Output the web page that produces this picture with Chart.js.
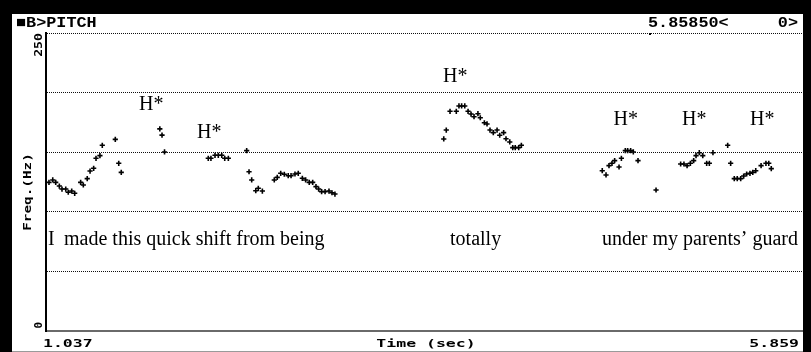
<!DOCTYPE html>
<html>
<head>
<meta charset="utf-8">
<script src="https://cdn.jsdelivr.net/npm/chart.js@4/dist/chart.umd.min.js"></script>
<style>
  html, body { margin: 0; padding: 0; background: #000; }
  #wrap { width: 811px; height: 352px; }
  canvas { display: block; }
</style>
</head>
<body>
<div id="wrap"><canvas id="pitch" width="811" height="352"></canvas></div>
<script>
// Analysis window (seconds) and frequency range (Hz)
const timeStart = 1.037;
const timeEnd = 5.859;
const freqMin = 0;
const freqMax = 250;
const freqStep = 50;

// F0 track, phrase 1: "I made this quick shift from being"
const phrase1Time = [1.056, 1.080, 1.099, 1.122, 1.139, 1.163, 1.179, 1.201, 1.220, 1.258,
  1.275, 1.300, 1.318, 1.341, 1.356, 1.381, 1.396, 1.479, 1.501, 1.517,
  1.763, 1.777, 1.793, 2.072, 2.089, 2.115, 2.136, 2.158, 2.177, 2.200,
  2.317, 2.332, 2.349, 2.375, 2.391, 2.417, 2.493, 2.512, 2.534, 2.557,
  2.582, 2.600, 2.625, 2.646, 2.672, 2.693, 2.716, 2.738, 2.759, 2.776,
  2.795, 2.817, 2.842, 2.861, 2.880];
const phrase1Hz = [124.7, 126.7, 124.7, 121.6, 119.1, 119.1, 116.4, 117.4, 115.5, 124.7,
  122.5, 127.8, 134.2, 136.5, 144.9, 147.1, 155.8, 160.8, 140.7, 133.1,
  169.6, 164.3, 150.2, 144.9, 144.9, 147.4, 147.4, 147.4, 144.9, 144.9,
  151.3, 133.6, 126.7, 117.7, 119.7, 117.4, 126.7, 128.9, 132.3, 131.5,
  130.3, 130.3, 131.7, 132.3, 128.1, 126.7, 124.7, 124.7, 121.1, 119.1,
  116.9, 116.9, 117.4, 116.0, 114.9];

// F0 track, phrase 2: "totally"
const phrase2Time = [3.574, 3.590, 3.614, 3.654, 3.671, 3.688, 3.708, 3.729, 3.748, 3.767,
  3.792, 3.807, 3.833, 3.850, 3.869, 3.890, 3.914, 3.931, 3.956, 3.971,
  3.995, 4.014, 4.030, 4.052, 4.069];
const phrase2Hz = [161.1, 168.6, 184.3, 184.3, 188.8, 188.8, 188.8, 184.3, 182.0, 179.8,
  182.3, 178.9, 174.7, 173.7, 168.6, 166.4, 168.6, 164.2, 166.4, 161.3,
  158.6, 153.8, 153.8, 153.8, 155.8];

// F0 track, phrase 3: "under my parents' guard"
const phrase3Time = [4.585, 4.609, 4.628, 4.647, 4.664, 4.692, 4.707, 4.732, 4.747, 4.766,
  4.783, 4.813, 4.928, 5.085, 5.106, 5.126, 5.147, 5.168, 5.183, 5.204,
  5.226, 5.251, 5.268, 5.291, 5.385, 5.404, 5.427, 5.446, 5.468, 5.487,
  5.506, 5.527, 5.545, 5.564, 5.598, 5.629, 5.647, 5.663];
const phrase3Hz = [134.5, 130.9, 138.7, 140.7, 142.9, 137.6, 144.9, 151.3, 151.3, 151.3,
  150.2, 142.9, 118.3, 140.1, 140.1, 138.7, 140.7, 142.9, 147.1, 149.6,
  147.1, 140.7, 140.7, 149.6, 155.8, 140.7, 127.8, 127.8, 127.8, 130.0,
  131.7, 132.3, 133.1, 134.5, 138.7, 140.7, 140.7, 136.2];

// ToBI pitch-accent labels, anchored at (time, Hz) of their left baseline
const accentText = ['H*', 'H*', 'H*', 'H*', 'H*', 'H*'];
const accentTime = [1.630, 2.000, 3.569, 4.657, 5.094, 5.527];
const accentHz = [185.8, 162.3, 208.9, 172.4, 172.4, 172.4];

// Orthographic transcription, anchored at its left baseline
const wordText = ['I', 'made this quick shift from being', 'totally', 'under my parents\u2019 guard'];
const wordTime = [1.049, 1.152, 3.614, 4.583];
const wordHz = [72.1, 72.1, 72.1, 72.1];

// Header / axis captions
const windowTitle = '\u25A0B>PITCH';
const cursorReadout = '5.85850<';
const channelReadout = '0>';
const xAxisTitle = 'Time (sec)';
const yAxisTitle = 'Freq.(Hz)';

function toPoints(ts, hs) { return ts.map((t, i) => ({ x: t, y: hs[i] })); }

const MONO = '"DejaVu Sans Mono", monospace';
const HEAD = '"Liberation Mono", "DejaVu Sans Mono", monospace';
const SERIF = '"Liberation Serif", "Times New Roman", serif';

// Draw text stretched horizontally (wide terminal-style glyphs)
function stretchText(ctx, text, x, y, font, sx, align) {
  ctx.save();
  ctx.font = font;
  const w = ctx.measureText(text).width * sx;
  let x0 = x;
  if (align === 'center') x0 = x - w / 2;
  else if (align === 'right') x0 = x - w;
  ctx.translate(x0, y);
  ctx.scale(sx, 1);
  ctx.textAlign = 'left';
  ctx.textBaseline = 'alphabetic';
  ctx.fillText(text, 0, 0);
  ctx.restore();
}

// Vertical text reading bottom-to-top, centred on yCenter, baseline at bx
function verticalText(ctx, text, bx, yCenter, font, sx) {
  ctx.save();
  ctx.font = font;
  const w = ctx.measureText(text).width * sx;
  ctx.translate(bx, yCenter + w / 2);
  ctx.rotate(-Math.PI / 2);
  ctx.scale(sx, 1);
  ctx.textAlign = 'left';
  ctx.textBaseline = 'alphabetic';
  ctx.fillText(text, 0, 0);
  ctx.restore();
}
// Vertical text reading bottom-to-top, ending at yTop
function verticalTextEnd(ctx, text, bx, yTop, font, sx) {
  ctx.save();
  ctx.font = font;
  const w = ctx.measureText(text).width * sx;
  ctx.translate(bx, yTop + w);
  ctx.rotate(-Math.PI / 2);
  ctx.scale(sx, 1);
  ctx.textAlign = 'left';
  ctx.textBaseline = 'alphabetic';
  ctx.fillText(text, 0, 0);
  ctx.restore();
}

const framePlugin = {
  id: 'frame',
  beforeDraw(chart) {
    const ctx = chart.ctx;
    ctx.save();
    ctx.fillStyle = '#000';
    ctx.fillRect(0, 0, chart.width, chart.height);
    ctx.fillStyle = '#fff';
    ctx.fillRect(12, 14, 791, 338);
    ctx.fillStyle = '#9a9a9a';
    ctx.fillRect(12, 351, 791, 1);
    ctx.restore();
  },
  afterDraw(chart) {
    const ctx = chart.ctx;
    const xs = chart.scales.x, ys = chart.scales.y;
    const area = chart.chartArea;
    ctx.save();
    ctx.fillStyle = '#000';

    // header line
    const headFont = 'bold 15px ' + HEAD;
    stretchText(ctx, windowTitle, 16, 27, headFont, 1.12, 'left');
    stretchText(ctx, cursorReadout, 648, 27, headFont, 1.12, 'left');
    stretchText(ctx, channelReadout, 798, 27, headFont, 1.12, 'right');

    // cursor tick on the top line
    ctx.fillRect(649, area.top, 2, 2);

    // axis captions
    const axFont = 'bold 11px ' + MONO;
    stretchText(ctx, timeStart.toFixed(3), 43, 347, axFont, 1.5, 'left');
    stretchText(ctx, xAxisTitle, (area.left + area.right) / 2 + 2, 347, axFont, 1.5, 'center');
    stretchText(ctx, timeEnd.toFixed(3), 799, 347, axFont, 1.5, 'right');
    verticalTextEnd(ctx, String(freqMax), 42, ys.getPixelForValue(freqMax), axFont, 1.2);
    verticalTextEnd(ctx, String(freqMin), 42, ys.getPixelForValue(freqMin) - 9, axFont, 1.0);
    verticalText(ctx, yAxisTitle, 31, 192, axFont, 1.3);

    // prosodic labels and words
    ctx.font = '20px ' + SERIF;
    ctx.textAlign = 'left';
    ctx.textBaseline = 'alphabetic';
    accentText.forEach((s, i) => {
      ctx.fillText(s, xs.getPixelForValue(accentTime[i]), ys.getPixelForValue(accentHz[i]));
    });
    wordText.forEach((s, i) => {
      ctx.fillText(s, xs.getPixelForValue(wordTime[i]), ys.getPixelForValue(wordHz[i]));
    });
    ctx.restore();
  }
};

const trackStyle = {
  showLine: false,
  pointStyle: 'cross',
  pointRadius: 2.6,
  pointBorderWidth: 1.6,
  pointBorderColor: '#000',
  pointBackgroundColor: '#000',
  pointHoverRadius: 2.6
};

new Chart(document.getElementById('pitch'), {
  type: 'scatter',
  data: {
    datasets: [
      Object.assign({ label: 'phrase 1', data: toPoints(phrase1Time, phrase1Hz) }, trackStyle),
      Object.assign({ label: 'phrase 2', data: toPoints(phrase2Time, phrase2Hz) }, trackStyle),
      Object.assign({ label: 'phrase 3', data: toPoints(phrase3Time, phrase3Hz) }, trackStyle)
    ]
  },
  options: {
    responsive: false,
    animation: false,
    devicePixelRatio: 1,
    layout: { padding: { left: 46, right: 9, top: 33, bottom: 21 } },
    plugins: { legend: { display: false }, tooltip: { enabled: false } },
    events: [],
    scales: {
      x: {
        type: 'linear',
        min: timeStart,
        max: timeEnd,
        ticks: { display: false },
        grid: { display: false, drawTicks: false },
        border: { display: true, color: '#6a6a6a', width: 2 }
      },
      y: {
        type: 'linear',
        min: freqMin,
        max: freqMax,
        ticks: { display: false, stepSize: freqStep },
        grid: {
          drawTicks: false,
          color: (c) => (c.tick && c.tick.value === freqMin ? 'rgba(0,0,0,0)' : '#111'),
          lineWidth: 1
        },
        // dotted horizontal grid lines; the axis line itself stays solid
        border: { display: true, color: '#000', width: 2, dash: [1, 1] }
      }
    }
  },
  plugins: [framePlugin]
});
</script>
</body>
</html>
